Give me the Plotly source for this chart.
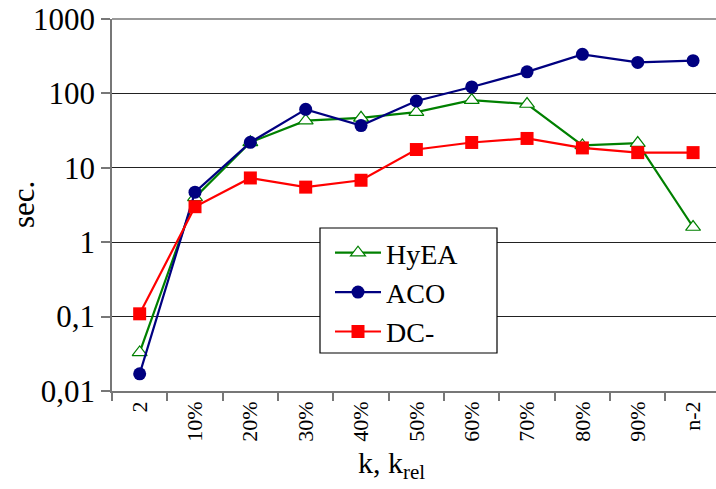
import plotly.graph_objects as go

categories = ["2", "10%", "20%", "30%", "40%", "50%", "60%", "70%", "80%", "90%", "n-2"]
hyea = [0.033, 4.0, 22, 43, 47, 56, 81, 72, 20, 21.5, 1.6]
aco = [0.017, 4.7, 22, 61, 37, 79, 122, 195, 335, 261, 275]
dc = [0.109, 3.0, 7.3, 5.5, 6.8, 17.6, 21.9, 24.8, 18.5, 16, 16]
ytick_vals = [0.01, 0.1, 1, 10, 100, 1000]
ytick_text = ["0,01", "0,1", "1", "10", "100", "1000"]

FONT = "Liberation Serif"
W, H = 716, 489
L, T, R, B = 112, 19, 0, 98
pw = W - L - R
ph = H - T - B


def px_x(p):
    return (p - L) / pw


def px_y(p):
    return (T + ph - p) / ph


fig = go.Figure()
fig.add_trace(go.Scatter(
    x=categories, y=hyea, name="HyEA", mode="lines+markers", legendgroup="a",
    line=dict(color="#008000", width=2.2),
    marker=dict(symbol="triangle-up", size=13, color="white", line=dict(color="#008000", width=1.2)),
))
fig.add_trace(go.Scatter(
    x=categories, y=aco, name="ACO", mode="lines+markers", legendgroup="b",
    line=dict(color="#000080", width=2.2),
    marker=dict(symbol="circle", size=13, color="#000080"),
))
fig.add_trace(go.Scatter(
    x=categories, y=dc, name="DC-", mode="lines+markers", legendgroup="c",
    line=dict(color="#FF0000", width=2.2),
    marker=dict(symbol="square", size=13, color="#FF0000"),
))

step = 553.4 / 10
xr_end = -0.5 + pw / step

fig.update_layout(
    width=W, height=H,
    margin=dict(l=L, r=R, t=T, b=B),
    paper_bgcolor="white", plot_bgcolor="white",
    font=dict(family=FONT, color="black"),
    showlegend=True,
    legend=dict(
        x=px_x(330), y=px_y(228), xanchor="left", yanchor="top",
        borderwidth=0, bgcolor="rgba(0,0,0,0)",
        font=dict(family=FONT, size=28, color="black"),
        traceorder="grouped", tracegroupgap=0,
        itemwidth=46,
    ),
    shapes=[
        dict(type="line", xref="paper", yref="paper", x0=0, x1=1, y0=1, y1=1,
             line=dict(color="#777", width=1.5), layer="above"),
        dict(type="rect", xref="paper", yref="paper",
             x0=px_x(320), x1=px_x(497), y0=px_y(353), y1=px_y(228),
             line=dict(color="black", width=1.2), fillcolor="white", layer="above"),
    ],
    xaxis=dict(
        type="category", range=[-0.5, xr_end],
        showline=True, linecolor="#777", linewidth=1.5,
        ticks="outside", tickson="boundaries", ticklen=8, tickcolor="#777", tickwidth=1.5,
        tickangle=-90, tickfont=dict(family=FONT, size=22, color="black"),
        showgrid=False, zeroline=False,
    ),
    yaxis=dict(
        type="log", range=[-2, 3],
        tickvals=ytick_vals, ticktext=ytick_text,
        showline=True, linecolor="#777", linewidth=1.5,
        ticks="outside", ticklen=9, tickcolor="#777", tickwidth=1.5,
        tickfont=dict(family=FONT, size=31, color="black"),
        showgrid=True, gridcolor="#222", gridwidth=1,
        zeroline=False,
    ),
    annotations=[
        dict(text="k, k<sub>rel</sub>", xref="paper", yref="paper",
             x=px_x(391), y=px_y(465), xanchor="center", yanchor="middle",
             showarrow=False, font=dict(family=FONT, size=30, color="black")),
        dict(text="sec.", xref="paper", yref="paper", textangle=-90,
             x=px_x(23), y=0.5, xanchor="center", yanchor="middle",
             showarrow=False, font=dict(family=FONT, size=31, color="black")),
    ],
)

fig.write_html("out.html")
